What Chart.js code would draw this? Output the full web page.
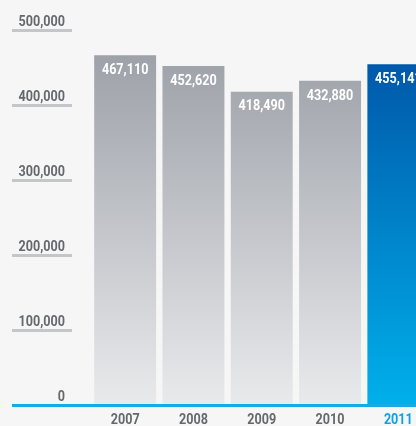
<!DOCTYPE html>
<html>
<head>
<meta charset="utf-8">
<script src="https://cdn.jsdelivr.net/npm/chart.js@4"></script>
<style>
  html, body { margin: 0; padding: 0; background: #f6f6f6; overflow: hidden; }
  #wrap { width: 440px; height: 426px; }
</style>
</head>
<body>
<div id="wrap"><canvas id="chart"></canvas></div>
<script>
const years = ['2007', '2008', '2009', '2010', '2011'];
const values = [467110, 452620, 418490, 432880, 455141];
const yTicks = [0, 100000, 200000, 300000, 400000, 500000];

const FONT = "bold 15px Roboto, sans-serif";
const NARROW = 0.84;
const fmt = v => v.toLocaleString('en-US');

function barFill(ctx) {
  const chart = ctx.chart;
  const area = chart.chartArea;
  if (!area) return '#a0a4aa';
  const g = chart.ctx.createLinearGradient(0, area.top, 0, area.bottom);
  if (ctx.dataIndex === years.length - 1) {
    g.addColorStop(0, '#0050a4');
    g.addColorStop(1, '#00b0ea');
  } else {
    g.addColorStop(0, '#989ca4');
    g.addColorStop(1, '#e9eaec');
  }
  return g;
}

// condensed text: squeeze horizontally around the anchor
function text(c, str, x, y, align) {
  c.save();
  c.translate(x, y);
  c.scale(NARROW, 1);
  c.textAlign = align;
  c.fillText(str, 0, 0);
  c.restore();
}

const decor = {
  id: 'decor',
  afterDatasetsDraw(chart) {
    const c = chart.ctx;
    const y = chart.scales.y;
    const base = y.getPixelForValue(0);
    c.save();
    c.font = FONT;
    c.textBaseline = 'alphabetic';
    yTicks.forEach(t => {
      const py = y.getPixelForValue(t);
      c.fillStyle = '#65686d';
      text(c, fmt(t), 65, py - 5, 'right');
      if (t !== 0) {
        c.fillStyle = '#c4c6c9';
        c.fillRect(12, py - 1.5, 60, 3);
      }
    });
    c.fillStyle = '#14ace6';
    c.fillRect(12, base - 1.5, chart.width, 3);

    const bars = chart.getDatasetMeta(0).data;
    c.textBaseline = 'middle';
    bars.forEach((bar, i) => {
      c.fillStyle = '#ffffff';
      text(c, fmt(values[i]), bar.x, bar.y + 15, 'center');
      c.fillStyle = i === years.length - 1 ? '#0aa3e2' : '#65686d';
      text(c, years[i], bar.x, base + 14.5, 'center');
    });
    c.restore();
  }
};

new Chart(document.getElementById('chart'), {
  type: 'bar',
  data: {
    labels: years,
    datasets: [{
      data: values,
      backgroundColor: barFill,
      borderWidth: 0,
      barPercentage: 0.907,
      categoryPercentage: 1
    }]
  },
  options: {
    responsive: true,
    maintainAspectRatio: false,
    animation: false,
    layout: { padding: { left: 91, right: 7.5, top: 30.5, bottom: 20.5 } },
    plugins: { legend: { display: false }, tooltip: { enabled: false } },
    scales: {
      y: { display: false, min: 0, max: 500000 },
      x: { display: false }
    }
  },
  plugins: [decor]
});
</script>
</body>
</html>
